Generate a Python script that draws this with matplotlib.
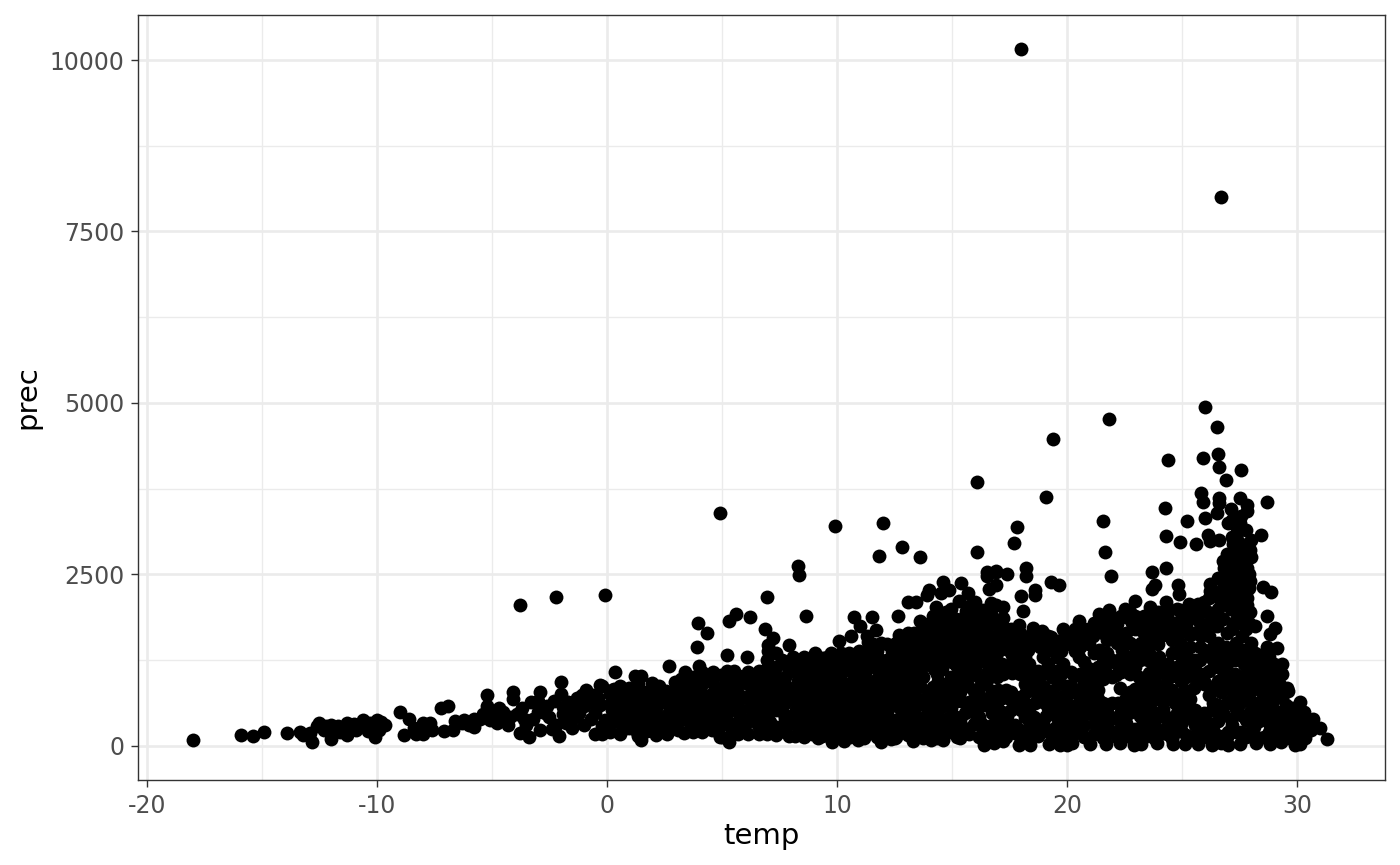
import numpy as np
import matplotlib
matplotlib.use("Agg")
import matplotlib.pyplot as plt

plt.rcParams["axes.unicode_minus"] = False

# (temp, prec), grouped by region
outliers = [(18.0,10160),(26.7,8010),(26.0,4940),(21.8,4770),(26.5,4650),(19.4,4480),(24.4,4170),(25.9,4200),
            (26.55,4260),(26.6,4070),(27.55,4020),(26.9,3880),(16.1,3850),(19.1,3630),(25.8,3690),(25.9,3560),
            (26.6,3620),(26.6,3540),(27.5,3610),(27.8,3510),(28.7,3560),(24.25,3470),(21.55,3280),(25.2,3280),
            (4.9,3400),(12.0,3250),(9.9,3210),(17.8,3190),(17.7,2960),(12.8,2900),(11.8,2770),(13.6,2750),
            (16.1,2830),(21.65,2830),(24.3,3060),(24.9,2980),(25.6,2950),(28.4,3080),(21.9,2480),(8.3,2620),
            (8.35,2490),(6.95,2170),(-0.1,2200),(-2.2,2170),(-3.8,2050),(8.65,1890)]

cold_left = [(-18.0,85),(-15.9,160),(-15.4,145),(-14.9,205),(-13.9,190),(-13.35,205),(-13.2,160),(-12.8,60),
             (-12.5,335),(-12.6,290),(-12.0,100),(-12.0,300),(-11.3,160),(-11.3,330),(-10.6,380),(-10.9,230),
             (-10.1,130),(-10.0,380),(-9.65,300),(-10.3,330),(-11.7,290),(-12.3,240),(-9.0,495),(-8.6,400),
             (-8.8,160),(-8.3,170),(-8.4,260),(-8.0,340),(-8.0,180),(-7.2,555),(-6.9,590),(-7.1,220),(-6.7,230),
             (-6.6,370),(-6.0,300),(-5.8,400),(-5.8,270),(-5.2,740),(-5.2,590),(-5.1,380),(-4.7,560),(-4.1,790),
             (-4.1,680),(-4.3,300),(-3.9,470),(-3.8,190),(-3.4,130),(-3.3,640),(-2.9,780),(-3.6,400),(-2.6,590),
             (-2.0,930),(-2.0,760),(-2.2,300),(-2.1,150),(-1.7,640),(-1.5,260),(-1.1,740),(-0.9,820),(-0.3,890),
             (-0.5,170),(0.2,820),(-1.9,470),(-1.2,480),(-0.5,480),(-0.2,290),(-2.5,420),(-3.0,500),(-1.5,560),
             (-0.8,640),(-0.4,700),(-4.6,420),(-2.9,240),(-4.9,480),(-4.5,500),(-4.2,420),(-3.7,560),(-3.5,300),
             (-3.2,400),(-3.0,650),(-2.7,480),(-2.4,250),(-2.3,650),(-1.9,570),(-1.8,330),(-1.4,420),(-1.3,700),
             (-1.0,300),(-1.0,580),(-0.7,400),(-0.6,750),(-0.3,600),(-0.1,380),(-0.2,180),(-5.5,400),(-6.3,330),
             (-7.6,230),(-7.7,340),(-12.2,290),(-11.9,250),(-11.0,320),(-10.7,300),(-10.4,220),(-10.2,300),
             (-9.9,240),(-9.8,350),(-11.6,200),(-12.9,190),(-7.9,260),(-6.2,380),(-5.4,460),(-4.8,330)]

edge_mid = [(0.35,1080),(1.2,1020),(1.5,1020),(0.3,830),(-0.2,870),(1.95,915),(2.25,880),(2.7,1170),(3.4,1080),
            (3.2,970),(3.9,1440),(3.95,1790),(4.35,1640),(4.0,1170),(4.6,1080),(5.2,1330),(5.3,1820),(5.6,1930),
            (6.2,1880),(6.1,1290),(5.2,1100),(5.5,1090),(6.8,1060),(6.6,1100),(6.85,1700),(7.2,1580),(7.0,1470),
            (7.0,1380),(7.9,1470),(9.05,1350),(9.75,1350),(10.1,1530),(10.6,1600),(10.75,1880),(11.0,1750),
            (11.3,1610),(11.5,1880),(11.7,1690),(11.9,1500),(12.65,1890),(13.1,2100),(13.45,2100),(13.6,1820),
            (14.3,2020),(14.0,2280),(13.9,2200),(14.6,2390),(14.85,2270),(14.5,2230),(15.4,2380),(15.3,2120),
            (15.7,2230),(12.7,1620),(13.1,1640),(13.7,1570),(14.2,1780),(14.9,1920),(15.6,1970),(16.0,2100),
            (16.5,2480),(16.9,2550),(16.6,2290),(16.9,2340),(16.9,2060)]

edge_bottom = [(1.5,90),(2.6,170),(3.6,250),(5.0,130),(5.3,65),(6.6,170),(7.9,140),(8.9,170),(9.8,60),(10.3,70),
               (10.9,90),(11.9,60),(12.5,110),(13.3,70),(14.1,90),(14.6,90),(15.2,130),(16.4,10),(16.3,150),
               (17.9,20),(18.4,10),(19.2,30),(19.7,15),(20.0,10),(20.2,40),(21.0,30),(21.7,30),(22.3,40),(22.9,10),
               (23.2,30),(23.9,40),(24.6,30),(25.1,30),(25.7,30),(26.3,20),(26.7,40),(27.0,20),(27.5,30),(28.2,40),
               (28.8,30),(29.3,60),(29.9,10),(30.1,30),(17.2,70),(16.8,40)]

edge_warm = [(16.5,2540),(16.9,2540),(17.4,2510),(18.2,2600),(18.2,2480),(19.3,2390),(19.65,2340),(18.6,2270),
             (18.6,2200),(18.0,2180),(18.1,1970),(17.2,2030),(17.2,1860),(16.7,2090),(17.9,1760),(18.5,1720),
             (18.9,1680),(19.3,1590),(19.8,1700),(20.5,1820),(21.4,1920),(21.8,1980),(22.95,2110),(22.5,2000),
             (23.6,2020),(22.95,1890),(23.2,1690),(24.3,2100),(24.3,1980),(24.9,1980),(25.3,2070),(25.7,2070),
             (24.6,1790),(24.0,1650),(23.7,2540),(24.3,2600),(23.8,2340),(23.7,2290),(24.8,2340),(24.85,2220),
             (26.2,2360),(26.2,2260),(26.8,2600),(27.1,2750),(27.6,2900),(27.2,2950),(28.0,3000),(28.0,2750),
             (27.9,2500),(28.5,2320),(28.85,2250),(27.9,2300),(28.7,1900),(29.05,1720),(28.8,1630),(29.1,1430),
             (28.7,1440),(29.35,1190),(29.0,1190),(29.2,920),(29.6,800),(30.1,640),(30.3,490),(30.7,400),(31.0,260),
             (31.3,100),(30.6,240),(30.2,280),(29.8,420),(29.5,600),(26.0,3330),(26.5,3390),(27.1,3460),(27.8,3420),
             (27.0,3250),(27.5,3250),(26.1,3080),(26.2,2990),(26.6,3000),(27.4,3100),(27.7,2650),(27.3,2550),
             (27.6,2400),(27.0,2350),(27.4,2150),(27.8,2150),(27.1,2000),(27.6,1950),(27.9,1800),(26.6,2150)]

core_0 = [(0.1,300),(0.2,520),(0.3,700),(0.4,420),(0.6,610),(0.7,250),(0.8,480),(0.9,760),(1.0,350),(1.1,560),
          (1.2,660),(1.3,200),(1.4,440),(1.5,800),(1.6,300),(1.7,560),(1.8,690),(1.9,390),(2.0,220),(2.1,500),
          (2.2,630),(2.3,750),(2.4,350),(2.5,260),(2.6,450),(2.8,560),(2.9,690),(3.0,330),(3.1,240),(3.2,830),
          (3.3,480),(3.4,610),(3.5,380),(3.6,720),(3.7,280),(3.8,520),(3.9,900),(3.9,640),(4.0,400)]
core_4 = [(4.1,780),(4.2,560),(4.3,300),(4.4,980),(4.5,670),(4.6,450),(4.7,850),(4.8,220),(4.9,600),(4.9,130),
          (5.0,740),(5.1,380),(5.2,940),(5.3,510),(5.4,280),(5.5,810),(5.6,650),(5.7,170),(5.8,430),(5.9,950),
          (5.9,720),(6.0,310),(6.2,560),(6.3,830),(6.4,1000),(6.5,420),(6.6,680),(6.7,250),(6.8,900),(6.9,540),
          (7.0,1150),(7.1,350),(7.2,770),(7.3,1020),(7.4,620),(7.5,230),(7.6,1250),(7.7,470),(7.8,880),(7.9,1100),
          (7.9,320)]
core_8 = [(8.0,680),(8.1,1300),(8.2,530),(8.3,950),(8.4,220),(8.5,1180),(8.6,770),(8.7,400),(8.8,1050),(8.9,600),
          (9.0,1250),(9.1,300),(9.2,860),(9.3,500),(9.4,1130),(9.5,180),(9.6,700),(9.7,1000),(9.8,380),(9.9,1280),
          (10.0,560),(10.1,820),(10.2,230),(10.3,1150),(10.4,460),(10.5,1350),(10.6,680),(10.7,950),(10.8,320),
          (10.9,1220),(11.0,560),(11.1,820),(11.2,1060),(11.3,170),(11.4,1400),(11.5,420),(11.6,700),(11.7,960),
          (11.8,260),(11.9,1250)]
core_12 = [(12.0,560),(12.1,830),(12.2,1100),(12.3,370),(12.4,1380),(12.5,660),(12.6,220),(12.7,950),(12.8,480),
           (12.9,1230),(13.0,760),(13.1,160),(13.2,1450),(13.3,330),(13.4,1050),(13.5,600),(13.6,870),(13.7,1300),
           (13.8,220),(13.9,470),(14.0,1550),(14.1,720),(14.2,1120),(14.3,340),(14.4,950),(14.5,1400),(14.6,580),
           (14.7,180),(14.8,1700),(14.9,820),(15.0,1230),(15.1,430),(15.2,1030),(15.3,1550),(15.4,650),(15.5,260),
           (15.6,1780),(15.7,880),(15.8,1350),(15.9,500)]
core_16 = [(16.0,1130),(16.1,1650),(16.2,720),(16.3,320),(16.4,1920),(16.5,960),(16.6,1450),(16.7,560),(16.8,1230),
           (16.9,1780),(17.0,820),(17.1,240),(17.2,1050),(17.3,1560),(17.4,430),(17.5,680),(17.6,1320),(17.6,1060),
           (17.8,170),(17.9,1600),(18.0,520),(18.1,1120),(18.2,780),(18.3,1400),(18.4,320),(18.5,980),(18.6,620),
           (18.8,1450),(18.8,190),(18.9,1520),(19.0,860),(19.1,430),(19.2,1100),(19.3,650),(19.4,1380),(19.5,280),
           (19.6,900),(19.7,520),(19.8,1200),(19.9,130)]
core_20 = [(20.0,740),(20.1,1500),(20.2,380),(20.3,1020),(20.4,600),(20.5,1300),(20.6,210),(20.7,880),(20.8,480),
           (20.9,1140),(21.0,700),(21.1,1600),(21.2,320),(21.3,980),(21.4,1400),(21.5,560),(21.6,140),(21.7,1200),
           (21.95,1000),(21.9,420),(22.0,1650),(22.1,1030),(22.2,620),(22.3,240),(22.4,1400),(22.3,850),(22.6,1180),
           (22.7,480),(22.8,1800),(22.9,700),(23.0,120),(23.1,1000),(23.2,1500),(23.3,360),(23.4,820),(23.5,1250),
           (23.6,560),(23.7,1760),(23.8,200),(23.9,1060)]
core_24 = [(24.0,680),(24.0,1300),(24.2,420),(24.3,900),(24.4,1200),(24.5,1700),(24.6,160),(24.7,620),(24.8,1020),
           (24.9,1500),(25.0,350),(25.1,820),(25.2,1300),(25.3,1850),(25.4,540),(25.5,130),(25.6,1100),(25.5,850),
           (25.8,1600),(25.9,300),(26.0,920),(26.1,1950),(26.2,1350),(26.3,520),(26.4,1150),(26.5,1750),(26.6,150),
           (26.7,780),(26.8,2200),(26.9,1450),(27.0,1000),(27.1,400),(27.2,1800),(27.3,1250),(27.4,2300),(27.5,620),
           (27.6,1600),(27.7,900),(27.8,2050),(27.9,1100)]
core_28 = [(27.2,2600),(27.5,2800),(27.8,2600),(27.4,3000),(27.6,1400),(27.3,1050),(27.7,1200),(27.5,820),(27.9,650),
           (28.0,1500),(28.1,280),(28.2,1000),(28.3,1250),(28.4,520),(28.5,760),(28.6,1350),(28.7,1050),(28.8,300),
           (28.9,620),(29.0,880),(29.1,150),(29.3,440),(29.5,230),(29.7,120),(30.0,330),(28.0,800),(27.0,200)]

# columns of the solid part: temp -> prec values
fill_mid = {0.15:[210,400,610,760], 0.55:[180,340,520,720,880], 0.95:[260,430,620,850], 1.35:[150,340,530,730,900],
            1.75:[220,430,620,790], 2.15:[160,330,560,710,840], 2.55:[200,380,620,800], 2.95:[270,460,610,780,930],
            3.35:[190,400,550,700,900], 3.75:[210,350,620,820,1000], 4.15:[200,350,500,680,900,1080],
            4.55:[240,380,560,760,930], 4.95:[300,470,680,850,1040], 5.35:[150,340,620,800,1000],
            5.75:[300,560,740,900,1020], 6.15:[180,380,700,900,1080], 6.55:[310,560,780,940],
            6.95:[180,430,650,820,1000,1250], 7.35:[160,280,520,700,900,1150,1350], 7.75:[210,400,620,780,1000,1200]}
fill_core = {8.15:[150,350,460,800,1080,1200], 8.55:[130,300,500,650,900,1300], 8.95:[210,420,720,950,1120],
             9.35:[140,280,640,780,1000,1280], 9.75:[120,250,520,820,1120,1220], 10.15:[150,400,660,950,1060,1360],
             10.55:[130,280,540,820,1100,1250], 10.95:[190,430,690,1000,1380], 11.35:[280,520,780,920,1180,1300,1520],
             11.75:[130,560,830,1120,1380], 12.15:[180,280,460,700,980,1250,1480], 12.55:[130,380,800,1030,1220,1500],
             12.95:[260,620,900,1100,1380,1560], 13.35:[140,470,720,1180,1420,1650],
             13.75:[120,340,620,1000,1160,1450,1700], 14.15:[180,560,860,1280,1660,1900],
             14.55:[130,260,780,1120,1260,1620,1860], 14.95:[300,560,1000,1420,1560,1780,2000],
             15.35:[120,380,780,1130,1300,1700,1840], 15.75:[180,640,1020,1200,1500,1680,2040],
             16.15:[130,420,840,1000,1380,1820], 16.55:[190,700,1100,1300,1620,1760], 16.95:[100,380,620,1000,1350,1620]}
fill_warm = {17.35:[130,280,820,1150,1420,1700], 17.75:[300,620,1150,1400,1520], 18.15:[120,420,620,900,1300,1500],
             18.55:[250,420,800,1050,1550], 18.95:[330,640,1050,1300,1650], 19.35:[130,500,800,1000,1500],
             19.75:[180,360,720,1050,1380,1550], 20.15:[130,280,560,880,1080,1620], 20.55:[350,720,1050,1450,1650],
             20.95:[120,520,850,1000,1480,1700], 21.35:[220,680,820,1150,1700], 21.75:[310,550,1050,1350,1550,1800],
             22.15:[130,400,1200,1500,1780], 22.55:[150,330,700,1300,1650,1880], 22.95:[250,600,830,1150,1350,1700],
             23.35:[130,480,700,950,1400,1650,1900], 23.75:[120,350,680,950,1120,1600,1880],
             24.15:[240,540,780,1080,1620,1800], 24.55:[100,350,820,1020,1350,1550],
             24.95:[230,500,950,1200,1680,1850], 25.35:[130,420,680,1080,1450,1620,1950],
             25.75:[230,400,1250,1450,1800,1950], 26.15:[120,340,740,1100,1600,1800,2150],
             26.55:[360,600,950,1280,1500,2000,2450], 26.95:[130,620,850,1200,1650,2100,2450,2800],
             27.35:[200,540,800,1500,1950,2450,2750,3200], 27.75:[130,380,750,1050,1350,1700,2250,2750,3150],
             28.15:[100,450,620,1150,1350,1750], 28.55:[130,420,620,950,1200], 28.95:[90,400,780,1020],
             29.35:[90,290,700,1050], 29.75:[100,240,560], 30.15:[140,400]}
fill_extra = {8.35:[240,420,620,740,1020,1240], 8.75:[200,340,580,840,1000,1220], 9.15:[120,400,560,680,950,1180],
              9.55:[330,450,600,900,1060,1300], 9.95:[170,300,460,640,900,1180], 10.35:[180,330,600,760,900,1250],
              10.75:[230,400,620,780,1060,1300], 11.15:[120,350,480,640,920,1130,1280],
              11.55:[230,350,620,880,1250,1480], 11.95:[180,330,480,700,900,1040,1200],
              12.35:[100,240,580,760,880,1180,1300], 12.75:[300,560,720,880,1130,1350,1450],
              13.15:[240,400,560,850,1000,1300,1520], 13.55:[220,400,680,950,1100,1500,1600],
              13.95:[250,400,560,800,1240,1380,1780], 14.35:[120,450,640,1050,1480,1700,1850],
              14.75:[220,400,680,900,1350,1500,1800,1950], 15.15:[180,360,650,880,1180,1380,1650,1850],
              15.55:[200,480,900,1020,1430,1600,1900], 15.95:[320,560,800,1300,1480,1800,1950],
              16.35:[240,600,900,1240,1540,1700,1980], 16.75:[300,480,800,1100,1380,1540,1900],
              17.15:[170,500,700,1200,1480,1750], 17.55:[220,520,780,1180,1520,1700], 17.95:[240,720,1050,1300,1650],
              18.35:[200,560,1000,1200,1600], 18.75:[150,350,720,900,1100,1620], 19.15:[230,560,720,1200,1420,1600],
              19.55:[420,650,1100,1300,1450], 19.95:[280,460,630,880,1480,1620], 20.35:[200,480,780,1380,1500,1700],
              20.75:[130,300,620,960,1220,1550,1700], 21.15:[180,430,620,1050,1350,1800],
              21.55:[120,400,620,980,1280,1650,1800], 21.95:[200,620,1250,1600,1880],
              22.35:[100,500,1080,1280,1600,1900], 22.75:[220,580,780,1050,1280,1500,1950],
              23.15:[170,430,620,830,1250,1400,1780], 23.55:[240,420,800,1060,1350,1500,1850],
              23.95:[160,470,830,1220,1480,1750,1950], 24.35:[180,420,680,1000,1700,1900],
              24.75:[250,480,720,1150,1350,1620,2000], 25.15:[160,620,1000,1150,1420,1750,1950],
              25.55:[300,520,1000,1250,1650,1900], 25.95:[150,480,900,1050,1400,1700,2100],
              26.35:[240,620,860,1250,1450,1900,2250], 26.75:[150,480,920,1100,1350,1850,2300,2700],
              27.15:[300,680,950,1350,1700,2200,2700,3050,3300], 27.55:[200,450,1000,1250,1800,2100,2550,2950,3350],
              27.95:[210,500,950,1250,1450,1950,2400,2850], 28.35:[120,360,880,1100], 28.75:[200,500,780,1150,1300],
              29.15:[180,500,850,1100], 29.55:[140,350,500,850], 29.95:[200,480], 30.35:[120,320]}

groups = [outliers, cold_left, edge_mid, edge_bottom, edge_warm, core_0, core_4, core_8, core_12, core_16, core_20,
          core_24, core_28]
points = [p for g in groups for p in g]
for cols in (fill_mid, fill_core, fill_warm, fill_extra):
    for t, vals in cols.items():
        points += [(t, v) for v in vals]
points = np.array(points)
temp = points[:, 0]
prec = points[:, 1]

fig = plt.figure(figsize=(14, 8.65), dpi=100)
ax = fig.add_axes([138 / 1400, 1 - 780 / 865, (1385 - 138) / 1400, (780 - 15) / 865])

ax.scatter(temp, prec, s=100, c="black", linewidths=0, zorder=3)

ax.set_xlim(-20.38, 33.81)
ax.set_ylim(-496, 10656)
ax.set_xticks([-20, -10, 0, 10, 20, 30])
ax.set_xticks([-15, -5, 5, 15, 25], minor=True)
ax.set_yticks([0, 2500, 5000, 7500, 10000])
ax.set_yticks([1250, 3750, 6250, 8750], minor=True)
ax.grid(which="major", color="#EBEBEB", linewidth=1.9, zorder=0)
ax.grid(which="minor", color="#EBEBEB", linewidth=0.95, zorder=0)
ax.set_axisbelow(True)

ax.tick_params(which="major", length=5, width=1, color="#333333", labelcolor="#4D4D4D", labelsize=17, pad=5)
ax.tick_params(which="minor", length=0)
for s in ax.spines.values():
    s.set_color("#333333")
    s.set_linewidth(1)

ax.set_xlabel("temp", fontsize=21, labelpad=3)
ax.set_ylabel("prec", fontsize=21, labelpad=6)

fig.savefig("out.png", dpi=100)
